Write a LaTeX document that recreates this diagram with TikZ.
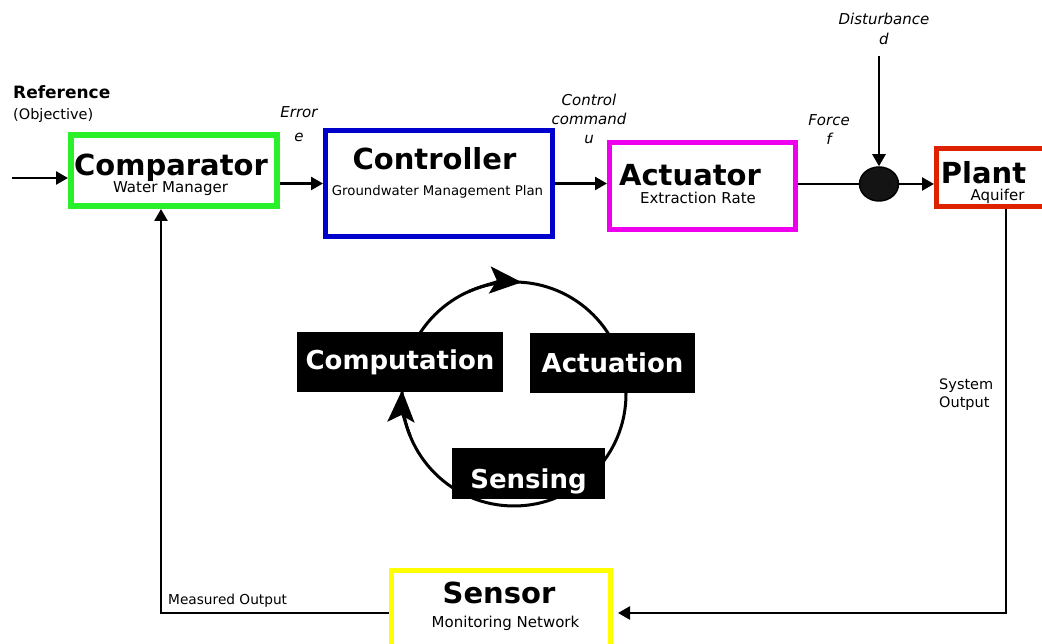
\documentclass[tikz,border=0pt]{standalone}
\usepackage{fontspec}
\setmainfont{DejaVu Sans}
\usetikzlibrary{positioning,arrows.meta,calc,shapes.geometric}
\definecolor{compG}{HTML}{2AF02A}
\definecolor{ctrlB}{HTML}{0000CC}
\definecolor{actM}{HTML}{EE00EE}
\definecolor{plantR}{HTML}{DD2200}
\definecolor{sensY}{HTML}{FFFF00}

\begin{document}
\begin{tikzpicture}[
    x=1pt,y=1pt,
    >={Triangle[length=12pt,width=13pt]},
    blk/.style={draw,line width=5pt,inner sep=0pt},
    ttl/.style={anchor=base,inner sep=0pt,font=\fontsize{29}{32}\selectfont\bfseries},
    sub/.style={anchor=base,inner sep=0pt,font=\fontsize{15}{18}\selectfont},
    lbl/.style={inner sep=0pt,align=center,font=\fontsize{15}{19}\selectfont\itshape},
    flow/.style={->,line width=2.5pt},
    phase/.style={fill=black,text=white,inner sep=0pt,
                  font=\fontsize{26}{30}\selectfont\bfseries},
    turn/.style={-{Stealth[length=32pt,width=27pt,inset=7pt]},line width=3pt},
]
\useasboundingbox (0,0) rectangle (1042,644);
\clip (0,0) rectangle (1042,644);

% =====================================================================
%  forward path: comparator -> controller -> actuator -> sum -> plant
% =====================================================================
\node[font=\fontsize{17}{20}\selectfont\bfseries,anchor=base west,inner sep=0pt]
     (refT) at (13,545) {Reference};
\node[sub,anchor=base west,font=\fontsize{14.5}{17}\selectfont] (refS) at (13,524) {(Objective)};
\coordinate (ref) at (12,466);

\node[blk,draw=compG,line width=6pt,minimum width=206,minimum height=71]
     (comp) at (174,473.5) {};
\node[ttl] (compT) at (171,468) {Comparator};
\node[sub] (compS) at (170.5,451) {Water Manager};

\node[blk,draw=ctrlB,minimum width=227,minimum height=106]
     (ctrl) at (439,460.5) {};
\node[ttl] (ctrlT) at (434.5,474) {Controller};
\node[sub,font=\fontsize{13.3}{16}\selectfont] (ctrlS) at (437.5,448)
     {Groundwater Management Plan};

\node[blk,draw=actM,minimum width=186,minimum height=87]
     (act) at (702.5,458) {};
\node[ttl] (actT) at (690,458) {Actuator};
\node[sub] (actS) at (698,440) {Extraction Rate};

% plant box runs off the right edge of the page
\node[blk,draw=plantR,minimum width=124,minimum height=58]
     (plant) at (998.5,466.5) {};
\node[ttl] (plantT) at (983.5,460) {Plant};
\node[sub] (plantS) at (997.5,443) {Aquifer};

\node[ellipse,draw,fill=black!92,line width=1.5pt,minimum width=39,
      minimum height=34,inner sep=0pt] (sum) at (879,460) {};
\coordinate (dist) at (879,588);

\node[lbl,font=\fontsize{15}{24}\selectfont\itshape] (err) at (299,520) {Error\\e};
\node[lbl] (cmd) at (589,525.5) {Control\\command\\u};
\node[lbl] (frc) at (829,514) {Force\\f};
\node[lbl,font=\fontsize{15}{20}\selectfont\itshape] (dst) at (884,615) {Disturbance\\d};

\draw[flow] (ref) -- (ref -| comp.west);
\draw[flow] (comp.east |- ctrl.west) -- (ctrl.west);
\draw[flow] (ctrl.east) -- (ctrl.east -| act.west);
\draw[line width=2.5pt] (act.east |- sum) -- (sum);
\draw[flow] (dist) -- (sum.north);
\draw[flow] (sum) -- (sum -| plant.west);

% =====================================================================
%  feedback path: plant -> sensor -> comparator
% =====================================================================
\node[blk,draw=sensY,minimum width=219,minimum height=94]
     (sens) at (501,26.5) {};
\node[ttl] (sensT) at (499,40) {Sensor};
\node[sub] (sensS) at (505.5,16) {Monitoring Network};

\coordinate (fbR) at (1006,31);
\coordinate (fbL) at (161,31);
\draw[flow,shorten >=5pt] (plant.south -| fbR) -- (fbR) -- (fbR -| sens.east);
\draw[flow] (sens.west |- fbL) -- (fbL) -- (fbL |- comp.south);

\node[inner sep=0pt,align=left,anchor=west,font=\fontsize{14.5}{18}\selectfont]
     (sysO) at (939,249.5) {System\\Output};
\node[sub,anchor=base west,font=\fontsize{13.7}{16}\selectfont]
     (measO) at (168,39) {Measured Output};

% =====================================================================
%  sensing / computation / actuation cycle
% =====================================================================
\coordinate (cyc) at (514,250);
\draw[line width=3pt] (cyc) circle[radius=112];
\draw[turn] ([shift={(202:112)}]cyc) arc[start angle=202,end angle=178,radius=112];
\draw[turn] ([shift={(114:112)}]cyc) arc[start angle=114,end angle=86,radius=112];

\node[phase,minimum width=206,minimum height=60] (cmpu) at (400,282) {Computation};
\node[phase,minimum width=165,minimum height=60,text depth=0pt] (actu) at (612.5,281) {Actuation};
\node[phase,minimum width=153,minimum height=51,text height=30pt,text depth=0pt]
     (snsg) at (528.5,170.5) {Sensing};

\end{tikzpicture}
\end{document}
